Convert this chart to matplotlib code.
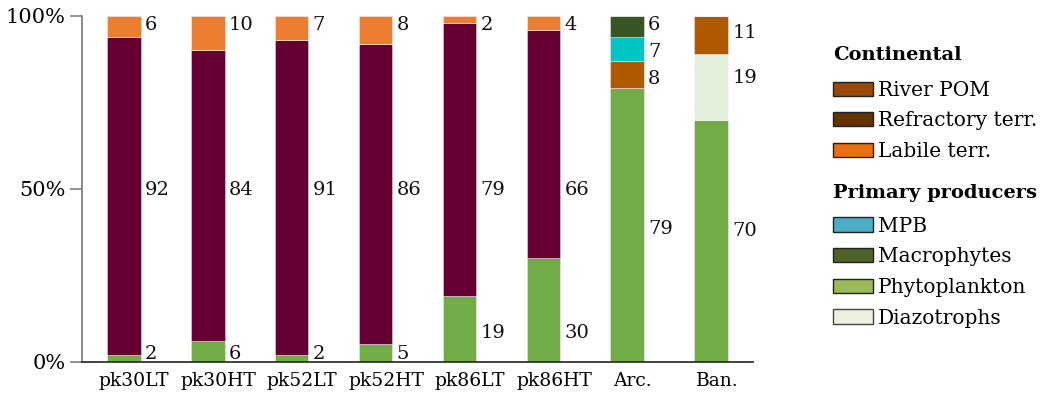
import matplotlib
matplotlib.use("Agg")
import matplotlib.pyplot as plt
import matplotlib.transforms as mtransforms
from matplotlib.patches import Patch
import numpy as np

plt.rcParams["font.family"] = ["DejaVu Serif"]

sites = ["pk30LT", "pk30HT", "pk52LT", "pk52HT", "pk86LT", "pk86HT", "Arc.", "Ban."]

# Source contributions (%) per site
phytoplankton = [2, 6, 2, 5, 19, 30, 79, 70]
refractory    = [92, 84, 91, 86, 79, 66, 0, 0]
labile        = [6, 10, 7, 8, 2, 4, 0, 0]
river_pom     = [0, 0, 0, 0, 0, 0, 8, 11]
mpb           = [0, 0, 0, 0, 0, 0, 7, 0]
macrophytes   = [0, 0, 0, 0, 0, 0, 6, 0]
diazotrophs   = [0, 0, 0, 0, 0, 0, 0, 19]

# stacking order (bottom -> top): values, bar colour, value-label heights (axis %)
layers = [
    (phytoplankton, "#70AD47", [2.3, 2.3, 2.3, 2.3, 8.4, 8.4, 38.4, 37.9]),
    (diazotrophs,   "#E2EFDA", [0, 0, 0, 0, 0, 0, 0, 82.1]),
    (refractory,    "#660033", [49.7] * 6 + [0, 0]),
    (river_pom,     "#B05A00", [0, 0, 0, 0, 0, 0, 81.8, 95.1]),
    (mpb,           "#00C4C4", [0, 0, 0, 0, 0, 0, 89.6, 0]),
    (macrophytes,   "#375623", [0, 0, 0, 0, 0, 0, 97.4, 0]),
    (labile,        "#ED7D31", [97.4] * 6 + [0, 0]),
]

totals = np.sum([np.array(v, float) for v, _, _ in layers], axis=0)

fig = plt.figure(figsize=(10.47, 4.04), dpi=100)
ax = fig.add_axes([0.0783, 0.104, 0.641, 0.857])

x = np.arange(len(sites))
width = 0.4
bottom = np.zeros(len(sites))
for vals, color, label_y in layers:
    v = np.array(vals, float) / totals * 100
    ax.bar(x, v, width, bottom=bottom, color=color,
           edgecolor=(1, 1, 1, 0.45), linewidth=0.6, zorder=2)
    for i, raw in enumerate(vals):
        if raw > 0:
            ax.text(x[i] + width / 2 + 0.05, label_y[i], f"{raw}",
                    ha="left", va="center", fontsize=14, color="#111111")
    bottom += v

ax.set_xlim(-0.5, 7.5)
ax.set_ylim(0, 100)
ax.set_yticks([0, 50, 100])
ax.set_yticklabels(["0%", "50%", "100%"], fontsize=15)
ax.set_xticks(x)
ax.set_xticklabels(sites, fontsize=13.5)
ax.tick_params(axis="x", length=0, pad=7)
ax.tick_params(axis="y", length=9, width=1.2, color="#808080", pad=3)
for side in ("top", "right"):
    ax.spines[side].set_visible(False)
ax.spines["left"].set_color("#808080")
ax.spines["left"].set_linewidth(1.3)
ax.spines["bottom"].set_color("#333333")
ax.spines["bottom"].set_linewidth(1.3)

# category labels sit slightly right of the bar centre
renderer = fig.canvas.get_renderer()
for lab in ax.get_xticklabels():
    w = lab.get_window_extent(renderer).width
    lab.set_transform(lab.get_transform() +
                      mtransforms.Affine2D().translate(0.14 * w, 0))

# Legend: two grouped blocks with bold headings
cont_handles = [
    Patch(facecolor="#9A4708", edgecolor="#222222", label="River POM"),
    Patch(facecolor="#633200", edgecolor="#222222", label="Refractory terr."),
    Patch(facecolor="#E8700F", edgecolor="#222222", label="Labile terr."),
]
prod_handles = [
    Patch(facecolor="#4BACC6", edgecolor="#222222", label="MPB"),
    Patch(facecolor="#4F6228", edgecolor="#222222", label="Macrophytes"),
    Patch(facecolor="#9BBB59", edgecolor="#222222", label="Phytoplankton"),
    Patch(facecolor="#EBF1DE", edgecolor="#444444", label="Diazotrophs"),
]
common = dict(frameon=False, fontsize=14.5, handlelength=1.95, handleheight=0.7,
              handletextpad=0.25, labelspacing=0.58, borderaxespad=0,
              borderpad=0)
fig.text(0.796, 0.864, "Continental", fontsize=14, fontweight="bold",
         ha="left", va="center")
fig.text(0.796, 0.522, "Primary producers", fontsize=14, fontweight="bold",
         ha="left", va="center")
leg1 = fig.legend(handles=cont_handles, loc="upper left",
                  bbox_to_anchor=(0.796, 0.800), **common)
leg2 = fig.legend(handles=prod_handles, loc="upper left",
                  bbox_to_anchor=(0.796, 0.464), **common)

fig.savefig("out.png", dpi=100)
